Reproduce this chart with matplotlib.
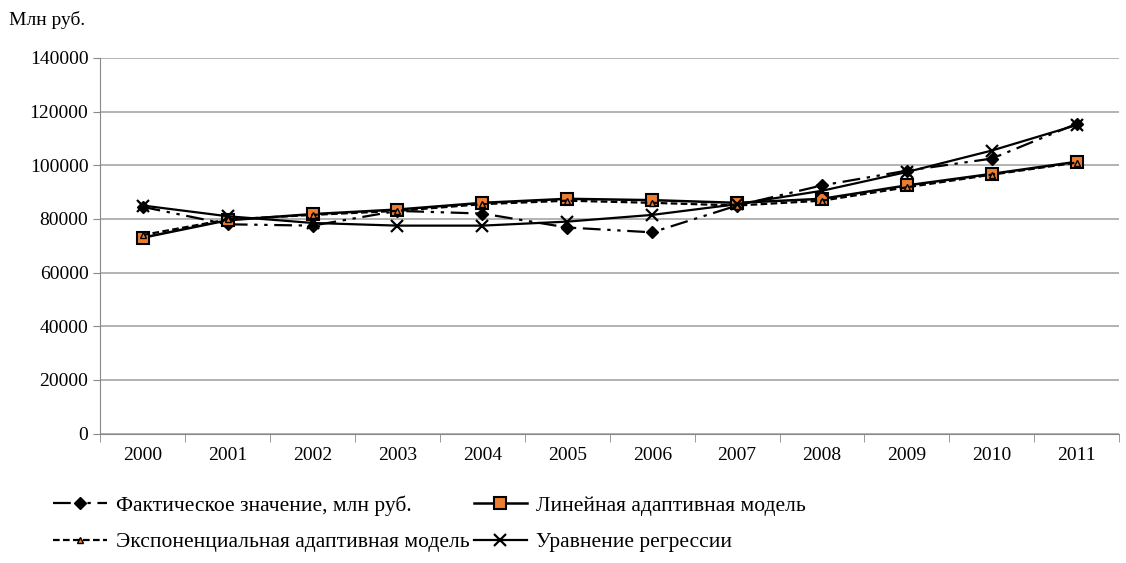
import matplotlib
matplotlib.use("Agg")
import matplotlib.pyplot as plt

plt.rcParams["font.family"] = ["Liberation Serif", "DejaVu Serif"]

years = ["2000", "2001", "2002", "2003", "2004", "2005", "2006", "2007", "2008", "2009", "2010", "2011"]
fact = [84500, 78000, 77500, 83000, 82000, 76800, 75000, 85000, 92500, 98000, 102500, 115500]
linear = [73000, 79500, 81800, 83500, 86000, 87500, 87000, 86000, 87500, 92500, 96800, 101300]
expo = [74000, 79800, 81500, 83000, 85500, 86800, 86000, 85000, 86800, 91800, 96500, 101000]
regr = [85000, 81000, 78500, 77500, 77500, 79000, 81500, 85500, 90500, 97500, 105500, 115000]

fig = plt.figure(figsize=(11.26, 5.63), dpi=100)
ax = fig.add_axes([0.089, 0.23, 0.905, 0.667])
x = range(len(years))

h_fact, = ax.plot(x, fact, color="black", lw=1.6, ls=(0, (8, 3, 1.5, 3, 1.5, 3)), marker="D", ms=6,
                  label="Фактическое значение, млн руб.")
h_lin, = ax.plot(x, linear, color="black", lw=1.8, marker="s", ms=8, mfc="#ED7D31", mec="black", mew=1.5,
                 label="Линейная адаптивная модель")
h_exp, = ax.plot(x, expo, color="black", lw=1.6, ls=(0, (3, 1.5)), marker="^", ms=5, mfc="#ED7D31", mec="black",
                 label="Экспоненциальная адаптивная модель")
h_reg, = ax.plot(x, regr, color="black", lw=1.6, marker="x", ms=9, mew=1.6,
                 label="Уравнение регрессии")

ax.set_ylim(0, 140000)
ax.set_xlim(-0.5, len(years) - 0.5)
ax.set_yticks(range(0, 140001, 20000))
ax.set_xticks(x)
ax.set_xticklabels(years)
ax.yaxis.grid(True, color="#A6A6A6", lw=1.2)
ax.set_axisbelow(True)
for s in ["top", "right"]:
    ax.spines[s].set_visible(False)
ax.spines["left"].set_color("#888888")
ax.spines["bottom"].set_color("#888888")
ax.tick_params(axis="both", labelsize=14, color="#888888", length=5)
ax.set_xticks([i - 0.5 for i in range(len(years) + 1)], minor=True)
ax.tick_params(axis="x", which="major", length=0, pad=10)
ax.tick_params(axis="x", which="minor", length=6, color="#888888")

fig.text(0.008, 0.965, "Млн руб.", fontsize=14, va="center")

# row-wise order like the original
handles = [h_fact, h_exp, h_lin, h_reg]
fig.legend(handles=handles, labels=[h.get_label() for h in handles],
           loc="lower left", bbox_to_anchor=(0.03, -0.015), ncol=2, frameon=False, fontsize=15.5,
           handlelength=2.5, columnspacing=0.2, handletextpad=0.4, labelspacing=0.75)

fig.savefig("out.png", dpi=100)
